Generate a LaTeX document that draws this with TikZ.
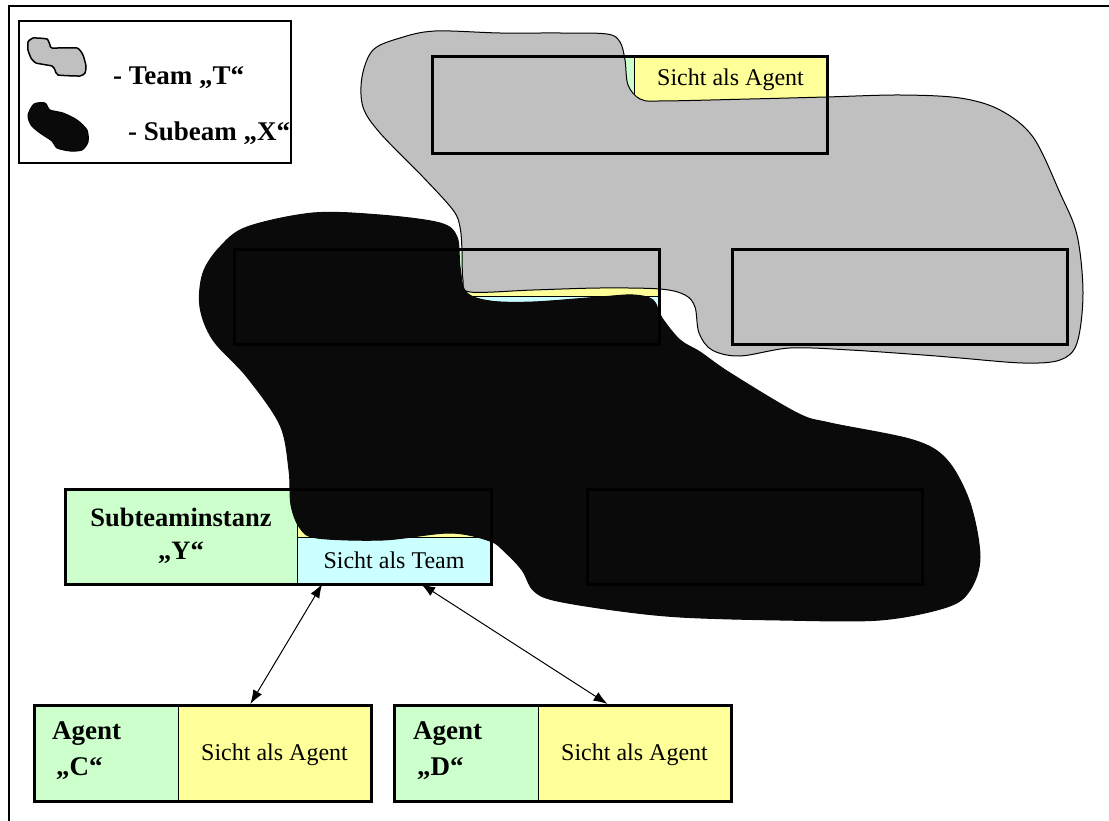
\documentclass[tikz,border=0pt]{standalone}
\usepackage{fontspec}
\setmainfont{Liberation Serif}
\usetikzlibrary{positioning,calc,arrows.meta}
\definecolor{agentgreen}{RGB}{204,255,204}
\definecolor{agentyellow}{RGB}{255,255,153}
\definecolor{teamcyan}{RGB}{204,255,255}
\definecolor{teamgray}{RGB}{192,192,192}
\definecolor{subblack}{RGB}{10,10,10}

\begin{document}
\begin{tikzpicture}[x=1pt,y=-1pt,
  font=\fontsize{24}{30}\selectfont,
  cell/.style={draw=black, line width=1pt, anchor=north west, inner sep=0pt},
  frame/.style={draw=black, line width=3pt, anchor=north west, inner sep=0pt},
  lbl/.style={inner sep=0pt, font=\fontsize{27}{36}\selectfont\bfseries},
  link/.style={line width=1pt, {Latex[length=14pt,width=10pt]}-{Latex[length=14pt,width=10pt]}}]
\useasboundingbox (0,0) rectangle (1109,821);
\draw[line width=1.5pt] (1109,6) -- (9,6) -- (9,821);

% legend
\node[frame, line width=2pt, minimum width=272pt, minimum height=142pt] (legend) at (18,20) {};
\fill[teamgray, draw=black, line width=1.5pt] plot[smooth cycle, tension=0.3] coordinates {
  (28,42) (33,38) (47,39) (50,45) (52,48) (77,48) (83,55) (86,66) (85,73) (80,76) (58,75)
  (55,70) (52,66) (36,63) (31,58) (28,50)};
\fill[subblack, draw=black, line width=1pt] plot[smooth cycle, tension=0.45] coordinates {
  (34,104) (45,103) (50,110) (63,113) (77,120) (87,130) (88,142) (82,150) (70,151) (57,148)
  (52,141) (40,133) (31,125) (28,115)};
\node[lbl, anchor=west] (legteam) at (113,78) {- Team „T“};
\node[lbl, anchor=west] (legsub) at (128,133) {- Subeam „X“};

% instance cells
\node[cell, fill=agentgreen, minimum width=203pt, minimum height=97pt] (tid) at (431,55) {};
\node[cell, fill=agentyellow, minimum width=192pt, minimum height=49pt] (tsicht) at (634,55) {Sicht als Agent};
\node[cell, fill=teamcyan, minimum width=192pt, minimum height=48pt] (tteam) at (634,104) {};
\node[cell, fill=agentgreen, minimum width=232pt, minimum height=95pt] (mid) at (233,248) {};
\node[cell, fill=agentyellow, minimum width=193pt, minimum height=48pt] (msicht) at (465,248) {};
\node[cell, fill=teamcyan, minimum width=193pt, minimum height=47pt] (mteam) at (465,296) {};
\node[cell, fill=agentgreen, minimum width=233pt, minimum height=95pt, align=center, font=\fontsize{26.5}{33}\selectfont\bfseries] (yid) at (64,488) {Subteaminstanz\\„Y“};
\node[cell, fill=agentyellow, minimum width=193pt, minimum height=49pt] (ysicht) at (297,488) {};
\node[cell, fill=teamcyan, minimum width=193pt, minimum height=46pt] (yteam) at (297,537) {Sicht als Team};
\node[cell, fill=agentgreen, minimum width=145pt, minimum height=96pt] (cid) at (33,704) {};
\node[cell, fill=agentyellow, minimum width=192pt, minimum height=96pt, text depth=-4pt] (csicht) at (178,704) {Sicht als Agent};
\node[cell, fill=agentgreen, minimum width=145pt, minimum height=96pt] (did) at (393,704) {};
\node[cell, fill=agentyellow, minimum width=192pt, minimum height=96pt, text depth=-4pt] (dsicht) at (538,704) {Sicht als Agent};
\node[lbl, anchor=west, align=left] (cname) at (52,751) {Agent\\\hspace{4pt}„C“};
\node[lbl, anchor=west, align=left] (dname) at (413,751) {Agent\\\hspace{4pt}„D“};

% team T
\fill[teamgray, draw=black, line width=1pt] plot[smooth cycle, tension=0.55] coordinates {
  (435,31) (500,33) (560,33) (607,34) (620,42) (625,60) (628,85) (640,99) (660,101)
  (750,99) (826,97) (900,95) (960,98) (1000,110) (1033,137) (1060,193) (1077,235)
  (1083,293) (1077,343) (1060,360) (1023,363) (960,358) (923,355) (850,350) (790,348)
  (740,356) (712,350) (699,333) (695,307) (685,295) (660,289) (600,288) (533,290)
  (470,292) (463,280) (462,250) (460,227) (453,210) (423,177) (380,133) (363,107)
  (362,77) (373,50) (400,38)};
% subteam X
\fill[subblack, draw=subblack, line width=1pt] plot[smooth cycle, tension=0.55] coordinates {
  (247,227) (313,213) (380,215) (440,223) (457,237) (460,267) (466,292) (490,301)
  (533,302) (600,297) (633,295) (653,300) (662,318) (680,340) (700,352) (730,373)
  (797,413) (830,423) (913,440) (947,460) (970,503) (980,557) (970,590) (947,607)
  (880,620) (780,620) (680,617) (613,610) (553,600) (533,590) (522,570) (505,552)
  (490,541) (450,533) (383,540) (317,538) (300,528) (291,505) (289,470) (280,425)
  (247,377) (213,340) (200,307) (203,273) (220,247)};

% instance frames
\foreach \n/\x/\y/\w/\h in {top/431/55/395/97, midl/233/248/425/95, midr/731/248/335/95,
  botr/586/488/335/95, ybox/64/488/426/95, cbox/33/704/337/96, dbox/393/704/337/96}{
  \node[frame, minimum width=\w pt, minimum height=\h pt] (\n) at (\x,\y) {};
}

\draw[link] ($(yteam.south west)!0.13!(yteam.south east)$) -- ($(csicht.north west)!0.375!(csicht.north east)$);
\draw[link] ($(yteam.south west)!0.64!(yteam.south east)$) -- ($(dsicht.north west)!0.36!(dsicht.north east)$);
\end{tikzpicture}
\end{document}
